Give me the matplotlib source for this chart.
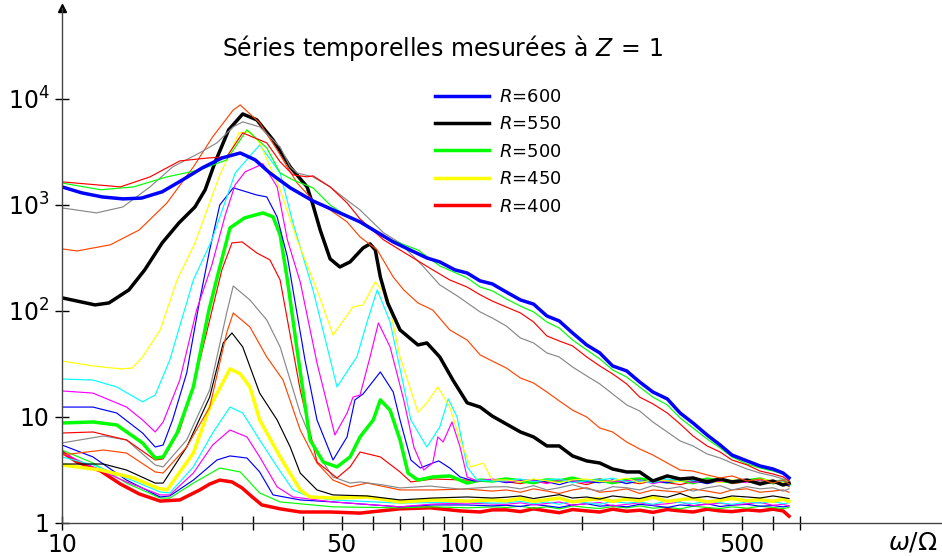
import matplotlib

matplotlib.use("Agg")
import matplotlib.pyplot as plt
from matplotlib.lines import Line2D
from matplotlib.ticker import NullLocator

# shared high-frequency grid (omega / Omega) used for every tail
w_tail = [129, 140, 151, 163, 175, 189, 205, 221, 238, 258, 278, 300,
          326, 351, 378, 410, 442, 473, 516, 556, 599, 635, 657]

# R = 600
w_600 = [10.0, 11.2, 12.6, 14.2, 15.8, 17.8, 20.0, 22.4, 25.1, 27.9, 30.4, 33.1,
         37.2, 42.4, 49.5, 55.6, 67.3, 81.7, 88.0, 96.0, 103, 111, 119]
s_600 = [1480, 1300, 1190, 1140, 1160, 1330, 1720, 2230, 2770, 3090, 2660, 2000,
         1450, 1090, 841, 692, 448, 316, 290, 244, 228, 192, 180]
t_600 = [151, 127, 116, 89.7, 80.5, 62.0, 47.8, 40.2, 30.3, 27.2, 21.4, 17.2,
         14.8, 10.9, 8.78, 6.76, 5.44, 4.38, 3.85, 3.45, 3.23, 2.96, 2.66]

# R = 590
w_590 = [10.0, 14.0, 16.6, 19.7, 23.1, 25.8, 28.3, 32.5, 35.1, 37.8, 41.0, 42.4,
         46.8, 51.6, 55.6, 63.7, 70.0, 84.5, 93.2, 103, 111, 119]
s_590 = [1650, 1480, 1840, 2600, 2770, 2840, 4780, 3850, 2550, 1920, 1840, 1880,
         1480, 1045, 738, 468, 376, 244, 196, 168, 142, 124]
t_590 = [109, 95.7, 78.7, 58.1, 52.1, 46.8, 36.8, 30.3, 25.5, 20.5, 15.4, 13.3,
         10.9, 8.59, 6.62, 5.33, 4.67, 3.93, 3.53, 3.09, 2.90, 2.72, 2.49]

# R = 580
w_580 = [10.0, 12.5, 15.1, 18.3, 22.1, 25.8, 29.0, 32.5, 35.1, 37.8, 42.4, 46.8,
         51.6, 55.6, 63.7, 77.6, 88.0, 103, 111, 119]
s_580 = [1610, 1390, 1480, 1840, 2140, 2660, 5100, 3450, 2000, 1720, 1450, 1000,
         780, 676, 499, 376, 266, 205, 168, 155]
t_580 = [130, 111, 97.9, 78.7, 69.1, 53.2, 42.9, 35.3, 27.8, 23.8, 19.2, 15.4,
         13.0, 9.79, 7.87, 6.20, 5.10, 4.20, 3.60, 3.30, 3.09, 2.90, 2.72]

# R = 570
w_570 = [10.0, 12.2, 14.2, 16.6, 18.9, 22.1, 24.4, 26.8, 28.3, 31.2, 35.1, 37.2,
         38.7, 42.4, 46.8, 51.6, 55.6, 63.7, 70.0, 80.2, 88.0, 97.2, 111, 119]
s_570 = [937, 841, 957, 1480, 2280, 3100, 3850, 5450, 6070, 5450, 3520, 2280,
         2000, 1840, 1480, 1110, 897, 545, 438, 260, 176, 139, 97.9, 85.9]
t_570 = [72.2, 55.6, 49.9, 40.2, 36.8, 29.6, 24.4, 20.5, 16.5, 13.0, 11.4, 8.97,
         7.22, 5.94, 5.33, 4.48, 4.10, 3.68, 3.23, 2.96, 2.78, 2.60, 2.49]

# R = 560
w_560 = [10.0, 10.9, 13.2, 15.6, 18.3, 21.3, 23.8, 26.8, 27.9, 31.2, 34.5, 38.7,
         42.4, 46.8, 51.6, 55.6, 61.4, 67.3, 71.5, 77.6, 84.5, 93.2, 103, 111, 119]
s_560 = [385, 368, 420, 581, 1045, 2280, 4380, 7870, 8770, 5940, 3300, 1610,
         1110, 897, 692, 499, 376, 209, 158, 119, 102, 66.2, 53.2, 38.5, 33.7]
t_560 = [29.0, 23.3, 20.9, 17.2, 14.2, 11.6, 10.0, 7.87, 7.22, 5.81, 4.99, 4.38,
         3.68, 3.16, 3.09, 2.84, 2.66, 2.78, 2.49, 2.60, 2.38, 2.54, 2.33]

# R = 550
w_550 = [10.0, 12.1, 13.1, 14.7, 16.1, 17.8, 19.6, 21.5, 22.8, 24.1, 26.1, 28.3,
         30.7, 33.7, 37.2, 41.0, 42.4, 44.2, 46.8, 49.5, 52.5, 56.6, 58.9, 60.7,
         62.5, 65.2, 70.0, 77.6, 81.7, 88.0, 94.9, 103, 111, 119]
s_550 = [133, 114, 119, 158, 244, 438, 676, 957, 1390, 2490, 5100, 7210,
         6340, 4100, 2280, 1480, 1000, 581, 310, 260, 290, 393, 429, 376,
         209, 119, 66.2, 47.8, 49.9, 36.8, 22.3, 13.6, 12.4, 10.2]
t_550 = [8.59, 7.22, 6.48, 5.33, 5.33, 4.29, 3.85, 3.68, 3.23, 3.03, 3.03, 2.49,
         2.78, 2.60, 2.66, 2.44, 2.60, 2.44, 2.54, 2.33, 2.49, 2.28, 2.38]

# R = 540
w_540 = [10.0, 11.95, 14.0, 15.0, 15.9, 17.6, 19.4, 21.5, 24.7, 27.7, 29.5, 31.2,
         35.1, 38.7, 43.4, 47.6, 53.4, 56.6, 60.7, 65.2, 70.0, 77.6, 81.7, 87.0,
         93.2, 98.9, 105, 113, 119]
s_540 = [33.7, 30.3, 28.4, 29.0, 36.8, 66.2, 196, 438, 1840, 4780, 4890, 3850,
         1390, 468, 158, 59.4, 109, 114, 188, 133, 36.8, 11.1, 13.6, 19.2,
         12.4, 6.07, 3.38, 3.68, 2.54]
t_540 = [2.55, 2.45, 2.6, 2.5, 2.4, 2.55, 2.6, 2.45, 2.5, 2.65, 2.4, 2.55,
         2.5, 2.45, 2.6, 2.5, 2.4, 2.55, 2.45, 2.6, 2.5, 2.4, 2.3]

# R = 530
w_530 = [10.0, 11.95, 13.7, 15.9, 17.1, 18.6, 21.3, 23.7, 27.1, 31.2, 35.1, 37.8,
         42.4, 46.0, 48.7, 52.5, 54.6, 57.9, 61.4, 66.1, 74.5, 81.7, 88.0, 92.4,
         97.2, 103, 109, 119]
s_530 = [22.8, 22.3, 19.2, 13.9, 16.1, 34.5, 196, 468, 2000, 3680, 2000, 676,
         158, 45.8, 19.2, 29.6, 36.8, 78.7, 158, 78.7, 9.37, 5.21, 8.05, 14.8,
         10.0, 3.38, 2.54, 2.49]
t_530 = [2.5, 2.6, 2.45, 2.55, 2.6, 2.4, 2.5, 2.55, 2.65, 2.45, 2.5, 2.4,
         2.6, 2.5, 2.55, 2.45, 2.6, 2.5, 2.55, 2.4, 2.5, 2.45, 2.35]

# R = 520
w_520 = [10.0, 11.95, 14.5, 15.9, 17.1, 17.9, 19.7, 21.7, 23.7, 25.6, 27.1, 28.7,
         31.8, 34.5, 36.6, 39.4, 43.4, 48.1, 51.6, 53.4, 55.6, 58.9, 61.8, 66.1,
         71.5, 75.8, 80.2, 84.5, 87.0, 89.7, 94.4, 98.9, 103, 109, 119]
s_520 = [17.6, 16.8, 12.4, 9.37, 7.22, 8.97, 22.3, 102, 272, 805, 1550, 2050,
         2440, 1480, 468, 188, 32.3, 6.76, 10.9, 15.4, 16.1, 36.8, 77.1, 45.8,
         14.5, 5.21, 3.16, 3.68, 6.48, 5.81, 8.97, 5.21, 2.72, 2.49, 2.60]
t_520 = [2.45, 2.55, 2.5, 2.35, 2.55, 2.5, 2.4, 2.6, 2.45, 2.5, 2.55, 2.35,
         2.5, 2.6, 2.4, 2.55, 2.45, 2.5, 2.4, 2.55, 2.45, 2.5, 2.3]

# R = 510
w_510 = [10.0, 11.95, 13.7, 15.9, 17.1, 17.9, 18.9, 20.5, 22.1, 23.4, 24.8, 26.8,
         30.7, 32.5, 34.5, 36.6, 37.8, 40.5, 43.4, 47.6, 51.6, 54.0, 56.6, 62.5,
         67.3, 70.0, 74.5, 78.7, 84.5, 87.5, 93.2, 98.9, 107, 119]
s_510 = [12.4, 12.4, 10.9, 7.06, 5.21, 5.44, 9.37, 26.0, 127, 376, 1000, 1450,
         1240, 1190, 771, 323, 158, 34.5, 9.37, 3.93, 6.48, 14.5, 16.5, 26.6,
         17.2, 9.37, 3.93, 3.30, 3.68, 3.85, 3.30, 2.72, 2.49, 2.54]
t_510 = [2.4, 2.5, 2.55, 2.45, 2.3, 2.5, 2.45, 2.4, 2.55, 2.35, 2.5, 2.45,
         2.4, 2.55, 2.5, 2.35, 2.5, 2.45, 2.55, 2.4, 2.45, 2.35, 2.25]

# R = 500
w_500 = [10.0, 11.95, 13.7, 15.9, 17.1, 17.9, 19.4, 21.3, 23.3, 24.7, 26.3, 28.6,
         31.8, 33.7, 35.1, 36.6, 38.7, 41.7, 45.0, 48.7, 52.5, 55.6, 60.0, 62.5,
         66.1, 70.0, 73.3, 77.6, 84.5, 93.2, 103, 111, 119]
s_500 = [8.78, 8.97, 8.41, 5.69, 4.10, 4.20, 7.06, 19.2, 102, 244, 607, 754,
         841, 771, 521, 196, 42.9, 6.07, 3.76, 3.38, 4.20, 6.48, 9.37, 14.5,
         11.6, 6.07, 2.96, 2.54, 2.72, 2.78, 2.38, 2.54, 2.49]
t_500 = [2.6, 2.5, 2.4, 2.55, 2.5, 2.65, 2.45, 2.55, 2.4, 2.55, 2.6, 2.5,
         2.45, 2.55, 2.4, 2.6, 2.5, 2.45, 2.5, 2.6, 2.4, 2.5, 2.3]

# R = 490
w_490 = [10.0, 11.95, 14.5, 17.1, 17.9, 19.7, 21.5, 23.4, 25.1, 26.6, 28.2, 30.7,
         33.1, 35.1, 39.4, 43.4, 48.7, 52.5, 55.6, 62.5, 70.0, 74.5, 84.5, 103, 119]
s_490 = [7.06, 7.22, 6.07, 3.93, 4.02, 7.54, 22.3, 82.2, 244, 438, 448, 352,
         303, 196, 18.0, 3.76, 2.66, 3.38, 4.67, 4.20, 3.03, 2.44, 2.60, 2.54, 2.49]
t_490 = [2.45, 2.35, 2.5, 2.4, 2.55, 2.45, 2.3, 2.5, 2.4, 2.45, 2.35, 2.5,
         2.4, 2.3, 2.45, 2.4, 2.55, 2.35, 2.45, 2.5, 2.35, 2.4, 2.2]

# R = 480
w_480 = [10.0, 12.7, 14.5, 17.1, 17.9, 20.5, 23.4, 25.8, 26.8, 29.5, 32.5, 35.1,
         39.4, 43.4, 47.6, 52.5, 55.6, 63.7, 70.0, 83.2, 98.9, 119]
s_480 = [5.69, 6.62, 6.07, 3.53, 3.38, 6.07, 18.0, 95.7, 172, 127, 82.2, 45.8,
         10.9, 4.57, 2.72, 2.38, 2.44, 2.28, 2.14, 2.23, 2.09, 2.19]
t_480 = [2.2, 2.1, 2.25, 2.05, 2.15, 2.3, 2.1, 2.0, 2.2, 2.15, 2.05, 2.25,
         2.1, 2.2, 2.0, 2.15, 2.25, 2.05, 2.2, 2.1, 2.15, 2.0, 2.1]

# R = 470
w_470 = [10.0, 12.7, 14.5, 17.1, 17.9, 20.5, 23.4, 25.8, 26.8, 29.5, 32.5, 35.7,
         39.4, 43.4, 47.6, 52.5, 57.9, 70.0, 84.5, 103, 119]
s_470 = [4.38, 4.88, 4.57, 3.03, 2.96, 5.21, 12.4, 62.0, 95.7, 70.6, 36.8, 22.3,
         7.54, 3.68, 2.54, 2.19, 2.38, 2.05, 2.05, 2.09, 2.00]
t_470 = [2.05, 1.95, 2.1, 2.0, 1.9, 2.05, 2.15, 1.95, 2.0, 2.1, 1.9, 2.05,
         2.0, 1.95, 2.1, 2.0, 1.9, 2.05, 2.1, 1.95, 2.0, 2.05, 1.95]

# R = 460
w_460 = [10.0, 12.7, 14.5, 17.1, 17.9, 20.5, 23.4, 25.3, 26.6, 28.3, 31.2, 34.5,
         37.2, 39.4, 43.4, 47.6, 57.9, 70.0, 84.5, 103, 119]
s_460 = [3.60, 3.60, 3.16, 2.38, 2.38, 5.21, 15.4, 49.9, 62.0, 45.8, 16.8, 9.37,
         5.21, 2.96, 2.05, 1.84, 1.80, 1.65, 1.72, 1.76, 1.72]
t_460 = [1.75, 1.8, 1.7, 1.78, 1.85, 1.72, 1.76, 1.68, 1.8, 1.74, 1.7, 1.82,
         1.75, 1.9, 1.72, 1.78, 1.7, 1.8, 1.76, 1.72, 1.8, 1.74, 1.7]

# R = 450
w_450 = [10.0, 12.5, 15.1, 17.3, 18.3, 21.3, 23.4, 26.3, 27.9, 29.5, 31.2, 35.1,
         39.4, 41.7, 47.6, 57.9, 70.0, 84.5, 103, 119]
s_450 = [3.53, 3.16, 2.66, 2.14, 2.05, 4.57, 12.4, 28.4, 25.5, 19.2, 9.37, 4.20,
         2.05, 1.76, 1.72, 1.76, 1.58, 1.65, 1.61, 1.65]
t_450 = [1.62, 1.7, 1.6, 1.66, 1.72, 1.58, 1.65, 1.7, 1.6, 1.68, 1.62, 1.75,
         1.6, 1.66, 1.7, 1.58, 1.64, 1.7, 1.62, 1.66, 1.6, 1.68, 1.6]

# R = 440
w_440 = [10.0, 11.95, 14.5, 17.6, 18.6, 21.3, 23.8, 26.3, 28.3, 31.2, 34.5, 37.8,
         41.7, 47.6, 70.0, 103, 119]
s_440 = [4.20, 3.53, 2.66, 1.96, 1.92, 3.38, 7.06, 12.4, 10.9, 6.07, 3.38, 2.05,
         1.76, 1.65, 1.54, 1.58, 1.54]
t_440 = [1.55, 1.6, 1.52, 1.58, 1.5, 1.62, 1.55, 1.5, 1.6, 1.54, 1.58, 1.5,
         1.62, 1.56, 1.52, 1.6, 1.55, 1.5, 1.58, 1.54, 1.6, 1.52, 1.55]

# R = 430
w_430 = [10.0, 11.95, 14.5, 17.6, 18.6, 21.3, 23.8, 26.3, 29.0, 31.2, 34.5, 37.8,
         47.6, 70.0, 84.5, 103, 119]
s_430 = [4.57, 3.38, 2.44, 1.84, 1.84, 2.96, 5.44, 7.54, 6.48, 4.20, 2.19, 1.76,
         1.58, 1.42, 1.51, 1.54, 1.51]
t_430 = [1.5, 1.55, 1.48, 1.53, 1.58, 1.47, 1.52, 1.56, 1.45, 1.5, 1.55, 1.48,
         1.52, 1.58, 1.46, 1.5, 1.54, 1.48, 1.52, 1.56, 1.47, 1.5, 1.45]

# R = 420
w_420 = [10.0, 11.95, 14.5, 17.6, 18.6, 21.3, 24.4, 26.3, 29.0, 31.2, 33.7, 39.4,
         47.6, 70.0, 84.5, 103, 119]
s_420 = [5.44, 4.20, 2.54, 1.76, 1.80, 2.54, 3.93, 4.29, 4.10, 3.03, 1.84, 1.65,
         1.58, 1.42, 1.48, 1.48, 1.45]
t_420 = [1.47, 1.43, 1.5, 1.45, 1.4, 1.48, 1.52, 1.44, 1.47, 1.42, 1.5, 1.46,
         1.4, 1.48, 1.45, 1.52, 1.43, 1.47, 1.5, 1.44, 1.46, 1.42, 1.45]

# R = 410
w_410 = [10.0, 11.95, 14.5, 17.6, 18.6, 21.3, 24.8, 27.9, 31.2, 35.1, 47.6, 70.0,
         84.5, 103, 119]
s_410 = [4.88, 3.68, 2.38, 1.72, 1.72, 2.38, 3.30, 3.03, 1.92, 1.58, 1.42, 1.39,
         1.42, 1.39, 1.42]
t_410 = [1.4, 1.44, 1.38, 1.42, 1.36, 1.45, 1.4, 1.37, 1.43, 1.39, 1.45, 1.38,
         1.41, 1.36, 1.44, 1.4, 1.37, 1.42, 1.38, 1.44, 1.4, 1.37, 1.4]

# R = 400
w_400 = [10.0, 10.9, 12.5, 14.0, 15.6, 17.6, 19.7, 22.1, 23.4, 24.8, 26.6, 28.2,
         29.9, 31.6, 35.1, 39.4, 46.8, 55.6, 70.0, 83.2, 98.9, 111, 119]
s_400 = [4.67, 3.76, 3.09, 2.33, 1.88, 1.61, 1.65, 2.05, 2.33, 2.54, 2.44, 2.14,
         1.76, 1.48, 1.36, 1.27, 1.27, 1.24, 1.36, 1.39, 1.30, 1.27, 1.33]
t_400 = [1.33, 1.28, 1.36, 1.3, 1.25, 1.34, 1.3, 1.27, 1.35, 1.29, 1.32, 1.26,
         1.34, 1.3, 1.27, 1.35, 1.3, 1.28, 1.33, 1.3, 1.35, 1.3, 1.16]

R_values = [400, 410, 420, 430, 440, 450, 460, 470, 480, 490, 500,
            510, 520, 530, 540, 550, 560, 570, 580, 590, 600]
colors = ["#ff0000", "#00ff00", "#0000ff", "#ff00ff", "#00ffff", "#ffff00",
          "#000000", "#ff4500", "#888888", "#ff0000", "#00ff00", "#0000ff",
          "#ff00ff", "#00ffff", "#ffff00", "#000000", "#ff4500", "#888888",
          "#00ff00", "#ff0000", "#0000ff"]

series = {
    400: (w_400, s_400, t_400), 410: (w_410, s_410, t_410),
    420: (w_420, s_420, t_420), 430: (w_430, s_430, t_430),
    440: (w_440, s_440, t_440), 450: (w_450, s_450, t_450),
    460: (w_460, s_460, t_460), 470: (w_470, s_470, t_470),
    480: (w_480, s_480, t_480), 490: (w_490, s_490, t_490),
    500: (w_500, s_500, t_500), 510: (w_510, s_510, t_510),
    520: (w_520, s_520, t_520), 530: (w_530, s_530, t_530),
    540: (w_540, s_540, t_540), 550: (w_550, s_550, t_550),
    560: (w_560, s_560, t_560), 570: (w_570, s_570, t_570),
    580: (w_580, s_580, t_580), 590: (w_590, s_590, t_590),
    600: (w_600, s_600, t_600),
}

x_ticks = [10, 20, 30, 40, 50, 60, 70, 80, 90, 100, 200, 300, 400, 500, 600, 700]
x_labels = ["10", "", "", "", "50", "", "", "", "", "100", "", "", "", "500", "", ""]
y_ticks = [1, 10, 100, 1000, 10000]
y_labels = ["1", "10", "$10^2$", "$10^3$", "$10^4$"]

plt.rcParams["mathtext.fontset"] = "dejavusans"

fig = plt.figure(figsize=(9.42, 5.56), dpi=100)
ax = fig.add_axes([62 / 942, 33 / 556, 880 / 942, 515 / 556])
ax.set_xscale("log")
ax.set_yscale("log")

for R, col in zip(R_values, colors):
    w, s, t = series[R]
    thick = R % 50 == 0
    ax.plot(list(w) + w_tail, list(s) + t, color=col,
            lw=2.5 if thick else 0.85, solid_joinstyle="round")

ax.set_xlim(10, 1585)
ax.set_ylim(1, 72000)

for side in ("top", "right"):
    ax.spines[side].set_visible(False)
for side in ("left", "bottom"):
    ax.spines[side].set_linestyle((0, (2, 1)))
    ax.spines[side].set_color("#444444")
    ax.spines[side].set_linewidth(1.0)

ax.set_xticks(x_ticks, labels=x_labels)
ax.set_yticks(y_ticks, labels=y_labels)
ax.xaxis.set_minor_locator(NullLocator())
ax.yaxis.set_minor_locator(NullLocator())
ax.tick_params(axis="both", direction="inout", length=10, width=1, labelsize=17)
ax.tick_params(axis="x", pad=2)
ax.tick_params(axis="y", pad=4)

ax.plot([0], [1], marker="^", ms=6, color="black", transform=ax.transAxes,
        clip_on=False)

handles = [Line2D([], [], color=c, lw=2.5) for c in
           ["#0000ff", "#000000", "#00ff00", "#ffff00", "#ff0000"]]
labels = [f"$R$={r}" for r in [600, 550, 500, 450, 400]]
fig.legend(handles, labels, loc="upper left", bbox_to_anchor=(435 / 942, 1 - 88 / 556),
           frameon=False, fontsize=13, handlelength=3.0, handletextpad=0.55,
           labelspacing=0.52, borderpad=0, borderaxespad=0)

fig.text(443 / 942, 1 - 48 / 556, "Séries temporelles mesurées à $Z\\,=\\,1$",
         ha="center", va="center", fontsize=17)
fig.text(913 / 942, 1 - 543 / 556, r"$\omega/\Omega$", ha="center", va="center",
         fontsize=18)

fig.savefig("out.png", dpi=100)
